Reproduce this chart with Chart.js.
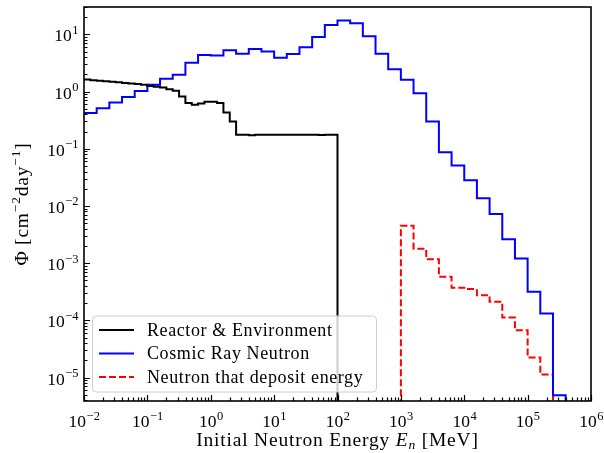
<!DOCTYPE html>
<html lang="en">
<head>
    <meta charset="UTF-8">
    <title>Neutron Flux Spectrum</title>
    <script src="https://cdn.jsdelivr.net/npm/chart.js"></script>
    <style>
        body { margin: 0; background: #fff; }
        #fluxChart { display: block; }
    </style>
</head>
<body>
<canvas id="fluxChart" width="604" height="453"></canvas>
<script>
    // histogram bins are log-spaced: first edge exponent and bins per decade
    const reactorFirstEdge = -2, reactorBinsPerDecade = 10;
    const cosmicFirstEdge = -2, cosmicBinsPerDecade = 5;

    // flux per bin [cm^-2 day^-1], 0 = empty bin
    const reactorFlux = [
        1.62, 1.58, 1.55, 1.51, 1.48, 1.45, 1.41, 1.38, 1.35, 1.31,
        1.25, 1.21, 1.17, 1.10, 1.03, 0.82, 0.63, 0.59, 0.62, 0.66,
        0.66, 0.63, 0.43, 0.30, 0.175, 0.175, 0.172, 0.175, 0.175, 0.175,
        0.175, 0.175, 0.175, 0.175, 0.175, 0.175, 0.175, 0.173, 0.175, 0.175
    ];
    const cosmicFlux = [
        0.42, 0.51, 0.64, 0.80, 1.02, 1.31, 1.68, 1.97, 3.19, 4.35,
        4.24, 5.25, 4.59, 5.55, 4.98, 3.91, 4.54, 5.92, 9.0, 14.5,
        17.4, 15.6, 9.2, 4.59, 2.44, 1.61, 0.93, 0.30, 0.087, 0.051,
        0.028, 0.0136, 0.00724, 0.00261, 0.00121, 3.16e-4, 1.32e-4, 4.9e-6, 0, 0
    ];
    const depositFlux = [
        0, 0, 0, 0, 0, 0, 0, 0, 0, 0,
        0, 0, 0, 0, 0, 0, 0, 0, 0, 0,
        0, 0, 0, 0, 0, 0.00452, 0.00179, 0.00117, 5.78e-4, 3.71e-4,
        3.52e-4, 2.76e-4, 2.11e-4, 1.12e-4, 6.7e-5, 2.24e-5, 1.13e-5, 0, 0, 0
    ];

    const seriesLabels = ["Reactor & Environment", "Cosmic Ray Neutron", "Neutron that deposit energy"];
    const xTickExps = [-2, -1, 0, 1, 2, 3, 4, 5, 6];
    const yTickExps = [-5, -4, -3, -2, -1, 0, 1];

    const FLOOR = 1e-8;
    const SERIF = '"Liberation Serif", "DejaVu Serif", serif';

    function stepPoints(firstEdge, perDecade, vals) {
        const pts = [];
        for (let i = 0; i < vals.length; i++) {
            pts.push({ x: Math.pow(10, firstEdge + i / perDecade), y: vals[i] > 0 ? vals[i] : FLOOR });
        }
        pts.push({ x: Math.pow(10, firstEdge + vals.length / perDecade), y: FLOOR });
        return pts;
    }

    function powerParts(exp) {
        return exp < 0 ? "\u2212" + (-exp) : String(exp);
    }

    // draw "10" with a raised exponent
    function drawPower(ctx, exp, x, baseY, align) {
        const sup = powerParts(exp);
        ctx.font = "17.5px " + SERIF;
        const wb = ctx.measureText("10").width;
        ctx.font = "12.5px " + SERIF;
        const ws = ctx.measureText(sup).width;
        let x0 = align === "center" ? x - (wb + ws) / 2 : x - (wb + ws);
        ctx.textAlign = "left";
        ctx.textBaseline = "alphabetic";
        ctx.font = "17.5px " + SERIF;
        ctx.fillText("10", x0, baseY);
        ctx.font = "12.5px " + SERIF;
        ctx.fillText(sup, x0 + wb + 0.5, baseY - 7.5);
    }

    // runs of mixed text: {t, font, dy}
    function drawRuns(ctx, runs, cx, baseY) {
        let total = 0;
        runs.forEach(r => { ctx.font = r.font; r.w = ctx.measureText(r.t).width; total += r.w; });
        let x = cx - total / 2;
        ctx.textAlign = "left";
        ctx.textBaseline = "alphabetic";
        runs.forEach(r => { ctx.font = r.font; ctx.fillText(r.t, x, baseY + (r.dy || 0)); x += r.w; });
    }

    const axisDecor = {
        id: "axisDecor",
        afterDraw(chart) {
            const { ctx, chartArea: a, scales: { x, y } } = chart;
            ctx.save();
            ctx.strokeStyle = "#000";
            ctx.fillStyle = "#000";

            // inward ticks on bottom and left
            ctx.lineWidth = 1.2;
            ctx.beginPath();
            for (let e = -2; e <= 6; e++) {
                for (let m = 1; m <= 9; m++) {
                    const v = m * Math.pow(10, e);
                    if (v < x.min || v > x.max) continue;
                    const px = Math.round(x.getPixelForValue(v)) + 0.5;
                    const len = m === 1 ? 6 : 3.5;
                    ctx.moveTo(px, a.bottom);
                    ctx.lineTo(px, a.bottom - len);
                }
            }
            for (let e = -6; e <= 1; e++) {
                for (let m = 1; m <= 9; m++) {
                    const v = m * Math.pow(10, e);
                    if (v < y.min || v > y.max) continue;
                    const py = Math.round(y.getPixelForValue(v)) + 0.5;
                    const len = m === 1 ? 6 : 3.5;
                    ctx.moveTo(a.left, py);
                    ctx.lineTo(a.left + len, py);
                }
            }
            ctx.stroke();

            // frame
            ctx.lineWidth = 1.6;
            ctx.strokeRect(a.left, a.top, a.right - a.left, a.bottom - a.top);

            // tick labels
            xTickExps.forEach(e => drawPower(ctx, e, x.getPixelForValue(Math.pow(10, e)), a.bottom + 26, "center"));
            yTickExps.forEach(e => drawPower(ctx, e, a.left - 6, y.getPixelForValue(Math.pow(10, e)) + 7, "right"));

            // axis titles
            const big = "19.5px " + SERIF, small = "13.5px " + SERIF;
            const itBig = "italic 19.5px " + SERIF, itSmall = "italic 13.5px " + SERIF;
            ctx.letterSpacing = "0.8px";
            drawRuns(ctx, [
                { t: "Initial Neutron Energy ", font: big },
                { t: "E", font: itBig },
                { t: "n", font: itSmall, dy: 3 },
                { t: " [MeV]", font: big }
            ], (a.left + a.right) / 2, 446);

            ctx.save();
            ctx.translate(22, (a.top + a.bottom) / 2);
            ctx.rotate(-Math.PI / 2);
            drawRuns(ctx, [
                { t: "\u03A6 [cm", font: big },
                { t: "\u22122", font: small, dy: -8 },
                { t: "day", font: big },
                { t: "\u22121", font: small, dy: -8 },
                { t: "]", font: big }
            ], 0, 6);
            ctx.restore();

            // legend
            const lx = 92.5, ly = 316, lw = 284, lh = 76;
            ctx.beginPath();
            ctx.roundRect(lx, ly, lw, lh, 4);
            ctx.fillStyle = "rgba(255,255,255,0.8)";
            ctx.fill();
            ctx.strokeStyle = "#cccccc";
            ctx.lineWidth = 1;
            ctx.stroke();
            const rows = [330, 353.5, 377];
            ctx.letterSpacing = "0.6px";
            chart.data.datasets.forEach((ds, i) => {
                ctx.strokeStyle = ds.borderColor;
                ctx.lineWidth = 2;
                ctx.setLineDash(ds.borderDash || []);
                ctx.beginPath();
                ctx.moveTo(99, rows[i]);
                ctx.lineTo(134, rows[i]);
                ctx.stroke();
                ctx.setLineDash([]);
                ctx.fillStyle = "#000";
                ctx.font = "18px " + SERIF;
                ctx.textAlign = "left";
                ctx.textBaseline = "middle";
                ctx.fillText(ds.label, 147, rows[i] + 1);
            });
            ctx.letterSpacing = "0px";
            ctx.restore();
        }
    };

    const ctx = document.getElementById("fluxChart").getContext("2d");
    const fluxChart = new Chart(ctx, {
        type: "line",
        data: {
            datasets: [{
                label: seriesLabels[0],
                data: stepPoints(reactorFirstEdge, reactorBinsPerDecade, reactorFlux),
                borderColor: "#000000",
                borderWidth: 2,
                stepped: "before",
                pointRadius: 0
            }, {
                label: seriesLabels[1],
                data: stepPoints(cosmicFirstEdge, cosmicBinsPerDecade, cosmicFlux),
                borderColor: "#0000ff",
                borderWidth: 2,
                stepped: "before",
                pointRadius: 0
            }, {
                label: seriesLabels[2],
                data: stepPoints(cosmicFirstEdge, cosmicBinsPerDecade, depositFlux),
                borderColor: "#ff0000",
                borderWidth: 2,
                borderDash: [7, 3],
                stepped: "before",
                pointRadius: 0
            }]
        },
        options: {
            responsive: false,
            animation: false,
            layout: { padding: { top: 7, right: 13, left: 0, bottom: 0 } },
            plugins: { legend: { display: false }, tooltip: { enabled: false } },
            scales: {
                x: {
                    type: "logarithmic",
                    min: 1e-2,
                    max: 1e6,
                    grid: { display: false },
                    border: { display: false },
                    ticks: { display: false },
                    afterFit(s) { s.height = 52; }
                },
                y: {
                    type: "logarithmic",
                    min: 3.9e-6,
                    max: 30,
                    grid: { display: false },
                    border: { display: false },
                    ticks: { display: false },
                    afterFit(s) { s.width = 84; }
                }
            }
        },
        plugins: [axisDecor]
    });
</script>
</body>
</html>
